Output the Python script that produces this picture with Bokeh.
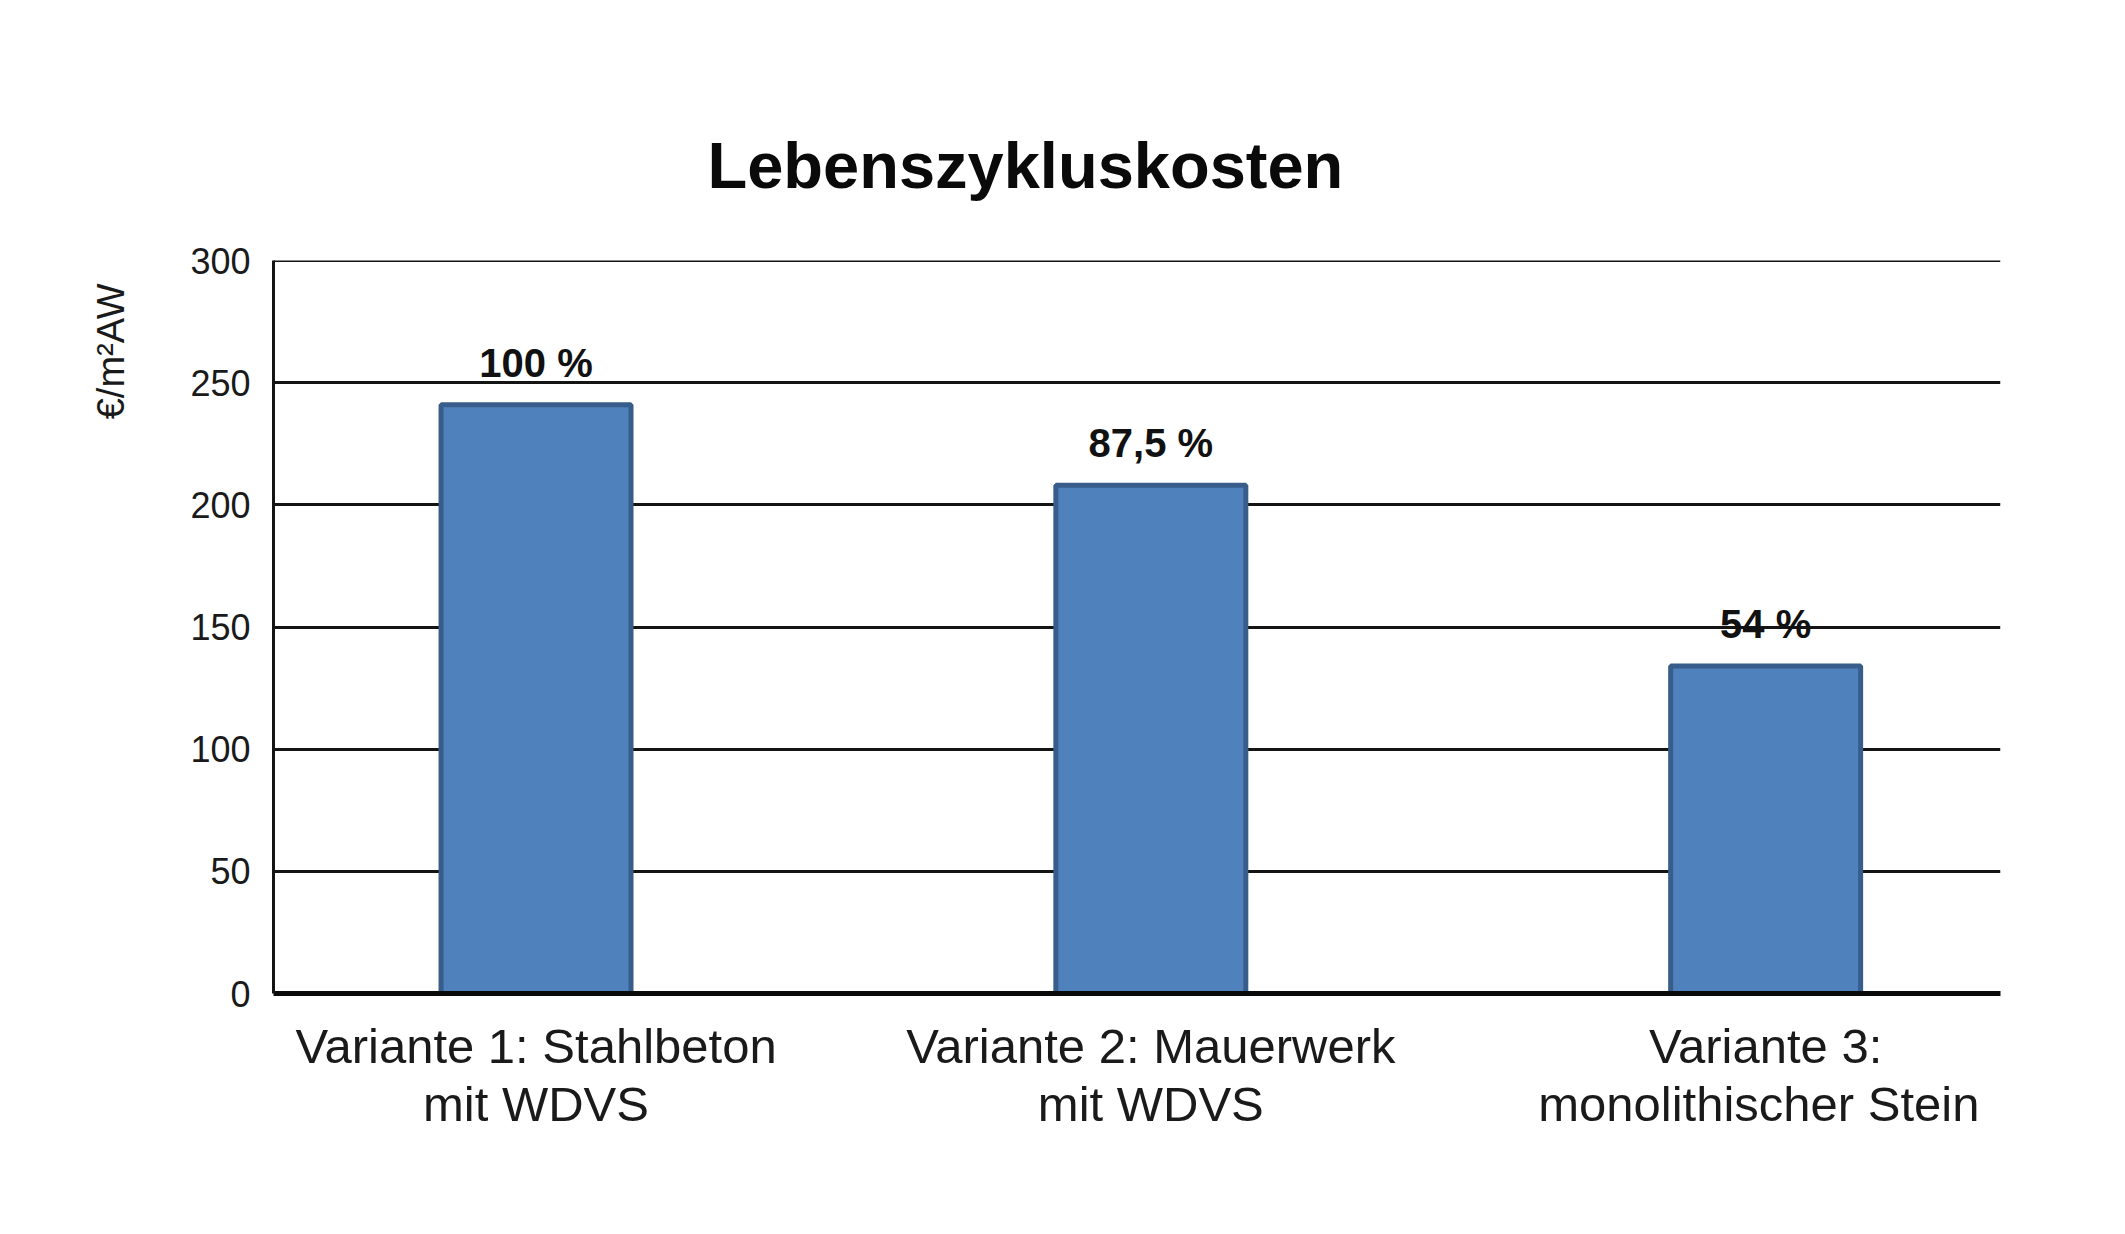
from bokeh.plotting import figure
from bokeh.models import ColumnDataSource, LabelSet, FixedTicker, Range1d, Title, Span
from bokeh.core.properties import value
from bokeh.embed import file_html
from bokeh.resources import INLINE

# ---- data ----
categories = ["Variante 1: Stahlbeton\nmit WDVS",
              "Variante 2: Mauerwerk\nmit WDVS",
              "Variante 3:\nmonolithischer  Stein"]
positions = [1, 2, 3]
values = [241, 208, 134]
pct_labels = ["100 %", "87,5 %", "54 %"]
y_ticks = [0, 50, 100, 150, 200, 250, 300]
title_text = "Lebenszykluskosten"
y_label = "€/m²AW"

FONT = "Liberation Sans"
INK = "#141414"

src = ColumnDataSource(dict(x=positions, top=values, pct=pct_labels))

p = figure(width=2120, height=1230, output_backend="svg", toolbar_location=None,
           x_range=Range1d(0.573, 3.382), y_range=Range1d(0, 300),
           min_border_left=273, min_border_right=120, min_border_top=260,
           min_border_bottom=237)
p.title = Title(text=title_text, align="left", offset=434, standoff=118,
                text_font=FONT, text_font_size="65px", text_font_style="bold",
                text_color="#0a0a0a")
p.outline_line_color = None
p.background_fill_color = "white"
p.border_fill_color = "white"

# grid
p.xgrid.grid_line_color = None
p.ygrid.ticker = FixedTicker(ticks=y_ticks)
p.ygrid.grid_line_color = INK
p.ygrid.grid_line_width = 3
p.add_layout(Span(location=y_ticks[-1], dimension="width",
                  line_color=INK, line_width=3))

# bars
p.vbar(x="x", top="top", bottom=0, width=0.309, source=src,
       fill_color="#4f81bd", line_color="#385d8a", line_width=5)

# value labels
labels = LabelSet(x="x", y="top", text="pct", source=src, text_align="center",
                  text_baseline="alphabetic", y_offset=28,
                  text_font=value(FONT), text_font_size="40px",
                  text_font_style="bold", text_color="#111111")
p.add_layout(labels)

# y axis
p.yaxis.ticker = FixedTicker(ticks=y_ticks)
p.yaxis.major_tick_line_color = None
p.yaxis.minor_tick_line_color = None
p.yaxis.axis_line_color = INK
p.yaxis.axis_line_width = 3
p.yaxis.major_label_text_font = FONT
p.yaxis.major_label_text_font_size = "36px"
p.yaxis.major_label_text_color = "#1a1a1a"
p.yaxis.major_label_standoff = 17

# x axis
p.xaxis.ticker = FixedTicker(ticks=positions)
p.xaxis.major_label_overrides = {pos: lab for pos, lab in zip(positions, categories)}
p.xaxis.major_tick_line_color = None
p.xaxis.minor_tick_line_color = None
p.xaxis.axis_line_color = "#0a0a0a"
p.xaxis.axis_line_width = 5
p.xaxis.major_label_text_font = FONT
p.xaxis.major_label_text_font_size = "49px"
p.xaxis.major_label_text_line_height = 1.09
p.xaxis.major_label_text_color = "#1a1a1a"
p.xaxis.major_label_standoff = 19

# y unit label near the top of the left side
p.add_layout(Title(text=y_label, align="right", offset=23, standoff=112,
                   text_font=FONT, text_font_size="38px",
                   text_font_style="normal", text_color="#1a1a1a"), "left")

open("out.html", "w").write(file_html(p, INLINE))
